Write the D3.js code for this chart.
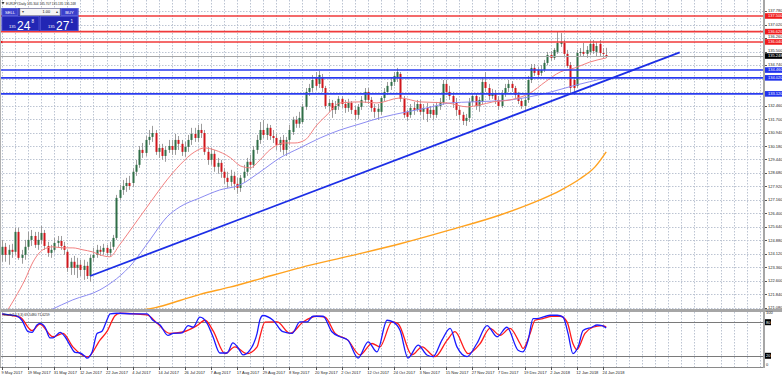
<!DOCTYPE html>
<html>
<head>
<meta charset="utf-8">
<script src="https://cdn.jsdelivr.net/npm/d3@7"></script>
<style>
  body { margin: 0; background: #fff; }
  svg { display: block; font-family: "Liberation Sans", Arial, sans-serif; }
</style>
</head>
<body>
<div id="chart"></div>
<script>
// ---- data ----
const chartTitle = 'EURJPY,Daily  135.304 135.707 135.135 135.248';
const stochTitle = 'Stoch(14,3,3) 69.5480 71.6259';

// date labels sit on every 8th daily bar, starting at bar 0 (9 May 2017)
const dateLabels = ['9 May 2017', '19 May 2017', '31 May 2017', '12 Jun 2017', '22 Jun 2017', '4 Jul 2017',
  '14 Jul 2017', '26 Jul 2017', '7 Aug 2017', '17 Aug 2017', '29 Aug 2017', '8 Sep 2017', '20 Sep 2017',
  '2 Oct 2017', '12 Oct 2017', '24 Oct 2017', '3 Nov 2017', '15 Nov 2017', '27 Nov 2017', '7 Dec 2017',
  '19 Dec 2017', '2 Jan 2018', '12 Jan 2018', '24 Jan 2018'];

const priceTicks = ['121.080', '121.840', '122.600', '123.360', '124.120', '124.880', '125.640', '126.400',
  '127.160', '127.920', '128.680', '129.440', '130.180', '130.940', '131.700', '132.460', '133.220',
  '133.980', '134.740', '135.500', '136.260', '137.020', '137.780'];

const opens = [124.07,124.52,124.07,124.35,124.24,125.36,123.90,124.07,124.52,124.91,125.13,124.63,124.91,125.30,124.57,124.18,124.35,124.74,124.85,124.57,
  124.24,123.34,123.68,123.34,123.51,123.22,123.45,122.88,123.90,124.07,124.35,124.24,124.46,124.18,124.52,125.02,127.27,127.72,127.94,128.11,
  128.11,128.74,129.13,129.97,129.80,130.53,130.70,130.92,129.86,130.08,129.63,129.97,130.19,129.97,130.53,130.31,129.86,130.14,130.53,130.87,
  130.64,131.09,130.92,129.86,129.41,129.75,129.02,129.24,128.74,128.40,128.17,128.51,128.06,127.83,128.40,128.74,129.30,129.13,129.97,130.53,
  131.09,130.81,131.21,130.75,130.64,130.25,130.53,129.97,130.53,130.98,131.66,131.44,131.54,132.39,133.23,133.45,134.02,133.68,134.07,133.45,
  132.44,132.61,132.22,132.44,132.84,132.55,132.33,132.61,132.22,131.94,132.39,132.78,133.23,132.78,132.33,132.11,132.11,132.89,133.23,133.57,
  133.79,134.02,134.24,132.84,132.11,131.94,132.33,132.22,132.55,132.11,132.33,131.99,132.22,131.94,132.44,132.61,133.68,133.23,133.00,132.61,
  132.22,131.94,131.60,131.77,132.67,133.00,132.44,132.67,133.79,133.45,133.00,133.12,132.78,132.44,133.12,133.45,133.68,133.45,133.06,132.72,
  132.44,132.78,133.90,134.58,134.46,134.30,134.46,134.86,135.31,135.14,135.48,135.93,135.98,135.37,134.74,133.90,133.57,135.42,135.48,135.37,
  135.48,135.93,135.48,135.93,135.42,135.304];
const highs = [124.91,124.74,124.63,124.69,125.59,125.59,124.35,124.91,125.36,125.47,125.36,125.36,125.70,125.47,124.80,124.63,125.02,125.13,125.13,124.80,
  124.35,123.90,124.01,123.90,123.79,123.79,123.68,124.07,124.46,124.63,124.57,124.69,124.63,124.80,125.19,127.44,128.00,128.28,128.40,128.51,
  128.96,129.41,130.19,130.36,130.75,131.09,131.32,131.09,130.31,130.31,130.19,130.53,130.53,130.87,130.75,130.53,130.42,130.81,131.21,131.21,
  131.37,131.44,131.09,130.14,130.08,129.97,129.52,129.41,128.96,128.74,128.85,128.74,128.40,128.56,129.13,129.52,129.69,130.19,130.81,131.54,
  131.66,131.44,131.37,131.09,130.87,130.70,130.81,130.70,131.37,131.83,131.88,132.11,132.55,133.45,133.68,134.18,134.35,134.41,134.24,133.57,
  132.84,132.78,132.72,133.00,133.00,132.78,132.84,132.72,132.44,132.55,133.00,133.45,133.45,132.95,132.55,132.55,133.00,133.45,133.79,134.02,
  134.35,134.58,134.35,133.00,132.22,132.55,132.67,132.78,132.78,132.55,132.61,132.44,132.55,132.67,132.89,133.90,133.90,133.57,133.23,132.89,
  132.44,132.11,131.99,132.89,133.17,133.12,132.95,134.02,134.35,133.68,133.40,133.34,133.00,133.34,133.68,133.90,133.84,133.57,133.23,132.89,
  133.00,134.13,134.80,134.80,134.63,134.74,135.03,135.48,135.53,135.70,136.60,136.54,136.15,135.59,134.91,134.07,135.59,135.70,135.98,135.81,
  136.15,136.15,136.04,136.15,135.70,135.707];
const lows = [123.68,123.68,123.51,123.90,124.07,123.79,123.57,123.79,124.35,124.57,124.46,124.35,124.69,124.35,123.96,123.90,124.24,124.46,124.35,124.07,
  123.11,122.94,122.94,122.77,122.88,122.66,122.71,122.55,123.68,123.90,124.01,124.07,124.01,124.01,124.35,124.91,127.16,127.44,127.61,127.72,
  127.89,128.51,128.96,129.52,129.63,130.25,130.42,129.69,129.52,129.41,129.30,129.80,129.69,129.69,129.97,129.63,129.58,129.86,130.25,130.42,
  130.42,130.64,129.69,129.13,129.13,128.74,128.63,128.40,128.06,127.83,127.94,127.72,127.50,127.61,128.17,128.51,128.85,128.96,129.75,130.31,
  130.64,130.53,130.53,130.36,129.97,129.86,129.69,129.63,130.25,130.81,131.21,131.21,131.44,132.22,133.00,133.23,133.34,133.45,133.23,132.28,
  132.11,131.77,131.99,132.22,132.33,132.05,132.11,131.99,131.66,131.71,132.22,132.61,132.55,132.11,131.77,131.66,131.94,132.72,133.06,133.34,
  133.57,133.79,132.67,131.77,131.60,131.77,131.94,132.11,131.94,131.66,131.54,131.77,131.66,131.77,132.22,132.50,133.06,132.78,132.33,131.88,
  131.66,131.37,131.32,131.54,132.44,132.22,132.11,132.55,133.23,132.78,132.84,132.55,132.22,132.33,132.95,133.23,133.23,132.89,132.55,132.28,
  132.22,132.61,133.73,134.13,134.02,134.13,134.35,134.74,134.97,135.03,135.37,135.76,135.19,134.58,133.12,133.06,133.45,135.19,135.19,135.14,
  135.31,135.37,135.25,135.25,135.14,135.135];
const closes = [124.52,124.07,124.35,124.24,125.36,123.90,124.07,124.52,124.91,125.13,124.63,124.91,125.30,124.57,124.18,124.35,124.74,124.85,124.57,124.35,
  123.34,123.68,123.34,123.51,123.22,123.45,122.88,123.90,124.07,124.35,124.24,124.46,124.18,124.40,125.02,127.27,127.72,127.94,128.11,127.94,
  128.74,129.13,129.97,129.80,130.53,130.70,130.92,129.86,130.08,129.63,129.97,130.19,129.97,130.53,130.31,129.86,130.14,130.53,130.87,130.64,
  131.09,130.92,129.86,129.41,129.75,129.02,129.24,128.74,128.40,128.17,128.51,128.06,127.83,128.40,128.74,129.30,129.13,129.97,130.53,131.09,
  130.81,131.21,130.75,130.64,130.25,130.53,129.97,130.53,131.09,131.66,131.44,131.77,132.39,133.23,133.45,133.90,133.57,134.18,133.45,132.44,
  132.61,132.22,132.44,132.84,132.55,132.33,132.61,132.22,131.94,132.39,132.78,133.23,132.78,132.33,132.11,132.28,132.89,133.23,133.57,133.79,
  134.13,134.35,132.84,131.94,131.83,132.33,132.22,132.55,132.11,132.33,131.99,132.22,131.94,132.44,132.67,133.68,133.23,133.00,132.61,132.22,
  131.94,131.60,131.77,132.67,133.00,132.44,132.78,133.79,133.45,133.00,133.12,132.78,132.44,133.12,133.45,133.68,133.45,133.06,132.72,132.44,
  132.78,133.90,134.58,134.30,134.18,134.46,134.86,135.31,135.14,135.59,135.98,136.04,135.37,134.69,133.45,133.45,135.42,135.48,135.37,135.59,
  135.93,135.53,135.81,135.42,135.37,135.248];

// moving averages, read at points along each line (bar index, price)
const maFastBars = [1.8,4,7,9.5,12.5,15.6,18.7,21.7,24.8,27.6,30,33,36,40,45.3,50.5,54.5,59,62,65,70,73,76,79,82,
  86.6,89.7,92.8,96.4,99.5,103.5,109.6,114.8,121.9,128,136.3,142.4,146.4,150.3,155.5,161.7,166.3,170.9,175.4,180,185];
const maFastVals = [120.98,121.65,122.66,123.67,124.35,124.52,124.46,124.46,124.35,124.24,124.07,123.96,124.63,125.64,126.99,
  128.28,129.13,129.86,130.08,129.97,129.52,129.07,128.96,129.41,129.97,130.36,130.36,130.53,131.37,131.94,132.61,132.67,132.61,
  132.89,132.67,132.61,132.39,132.50,132.67,132.78,133.17,133.79,134.35,134.58,134.91,135.14];
const maMidBars = [14.7,21.7,30,40.1,45.3,50.5,54.5,60.6,66.7,72.9,79,85.1,91.2,97.4,103.5,109.6,115.7,124,130.1,137.2,144.2,155.5,166.9,174.8,185];
const maMidVals = [120.95,121.54,122.10,123.62,124.91,126.20,126.77,127.27,127.72,128.00,128.73,129.52,130.08,130.64,131.09,131.43,
  131.77,132.11,132.33,132.61,132.67,132.78,133.17,133.57,134.02];
const maSlowBars = [40,47,54.5,60.6,69.8,79,91.2,106.6,121.9,137.2,152.5,164.7,171,177,181.5,185];
const maSlowVals = [120.90,121.10,121.50,121.85,122.25,122.72,123.34,124.01,124.69,125.47,126.31,127.16,127.70,128.35,129.00,129.86];

// drawn objects
const resistLevels = [137.50, 136.62, 136.04];
const supportLevels = [134.46, 134.02, 133.12];
const bidPrice = 135.248;
const trendBars = [27, 207.5];
const trendPrices = [122.88, 135.45];

// stochastic %K (blue) and %D (red)
const stochKBars = [0,2.4,4.6,6.1,8.0,9.2,10.7,11.6,13.2,14.7,15.6,17.8,19.3,20.8,22.4,23.9,25.4,26,27.6,29.1,30.6,32.1,33.1,35.2,40.1,
  44.4,46.2,48.4,50.8,52.4,55.1,57,58.5,60.6,62.8,64.6,66.7,68.9,70.7,72.3,73.8,75.9,78.1,79,79.9,83,86,88.8,91.2,93.4,95.2,98.3,101,
  103.5,105.9,109,112.1,114.8,117.9,119.7,121.9,124.3,127.4,130.1,132,134.7,137.2,139.3,142.4,145.4,148.5,151.6,154.6,158,159.5,161.1,
  162.6,163.8,167.8,170,171.8,173.3,174.8,176.4,177.9,180.6,182.2,183.7,185];
const stochK = [95,93,91,83.5,63,62,75,78,71,52,52,62,54,39,26,25,19,16,27,60,64,83.5,95,96,95,95,83.5,75,56.5,60,61,74,71,89,78,54,25,25,
  43,34,21.5,30,60,85,92,83.5,63,60,80.5,80.5,90.6,90.6,63,54,48,16,45,27,83.5,80.5,65,16,39,21.5,18.5,48,69,36,18.5,42,74,54,71,30,27,48,
  86.5,86.5,92.4,92.4,89,60,24,36,65,71,75,74,69.55];
const stochDBars = [0,5.5,9.2,11.6,15.6,18.7,21.7,26.3,30,32.1,34.6,36.1,44.4,47.5,51.4,55.4,59.7,62.2,64.6,68.3,71.3,75,78.1,79,80.5,
  84.2,88.2,92.2,96.4,98.9,102,105.9,109.6,113.3,115.7,119.4,121.3,125.5,128.6,132.6,136.3,138.7,142.7,146.4,149.4,152.5,155.5,158.6,
  159.5,161.7,163.2,165.6,168.4,170.9,173,174.8,176,178.5,180.9,183.7,185];
const stochD = [94,89,65,76.5,54,60,36,18,48,63,91.5,96,93,78,60,62.5,74,83.5,65,24,36,24,36,55,80,80.5,60,80.5,90.6,89,60,48,21.5,42,36,
  80.5,77,21.5,36,18.5,48,63,24,42,69,56.5,69,42,33,60,83.5,86.5,90.6,90.6,80.5,42,31,60,71,74,71.63];
const stochLevels = [80, 20];

// ---- layout ----
const W = 782, H = 377;
const plotR = 763;
const main = { top: 0, bottom: 309 };
const sub = { top: 312, bottom: 367 };

const x = d3.scaleLinear().domain([0, 233]).range([2, plotR]);
const y = d3.scaleLinear().domain([121.08, 137.78]).range([308, 11]);
const ys = d3.scaleLinear().domain([0, 100]).range([367, 311]);

const svg = d3.select('#chart').append('svg')
  .attr('width', W).attr('height', H);

const defs = svg.append('defs');
defs.append('clipPath').attr('id', 'clipMain')
  .append('rect').attr('x', 0).attr('y', main.top).attr('width', plotR).attr('height', main.bottom - main.top);
defs.append('clipPath').attr('id', 'clipSub')
  .append('rect').attr('x', 0).attr('y', sub.top).attr('width', plotR).attr('height', sub.bottom - sub.top);

svg.append('rect').attr('width', W).attr('height', H).attr('fill', '#fff');

const gridColor = '#bcc4d2';
const gMain = svg.append('g').attr('clip-path', 'url(#clipMain)');
const gSub = svg.append('g').attr('clip-path', 'url(#clipSub)');

// vertical grid, every 4 bars
const gridBars = d3.range(0, 233, 4);
[gMain, gSub].forEach(function(g, k) {
  const top = k === 0 ? main.top : sub.top;
  const bottom = k === 0 ? main.bottom : sub.bottom;
  g.selectAll('line.vgrid').data(gridBars).enter().append('line')
    .attr('class', 'vgrid')
    .attr('x1', d => Math.round(x(d)) + 0.5).attr('x2', d => Math.round(x(d)) + 0.5)
    .attr('y1', top).attr('y2', bottom)
    .attr('stroke', gridColor).attr('stroke-width', 1).attr('stroke-dasharray', '1.5,1.5');
});

// horizontal grid at price ticks
gMain.selectAll('line.hgrid').data(priceTicks).enter().append('line')
  .attr('x1', 0).attr('x2', plotR)
  .attr('y1', d => Math.round(y(+d)) + 0.5).attr('y2', d => Math.round(y(+d)) + 0.5)
  .attr('stroke', gridColor).attr('stroke-width', 1).attr('stroke-dasharray', '1.5,1.5');

// candles
const bars = d3.range(opens.length).map(i => ({ i: i, o: opens[i], h: highs[i], l: lows[i], c: closes[i] }));
const candle = gMain.append('g').selectAll('g').data(bars).enter().append('g');
candle.append('line')
  .attr('x1', d => Math.round(x(d.i)) + 0.5).attr('x2', d => Math.round(x(d.i)) + 0.5)
  .attr('y1', d => y(d.h)).attr('y2', d => y(d.l))
  .attr('stroke', '#9c9c9c').attr('stroke-width', 1);
candle.append('rect')
  .attr('x', d => Math.round(x(d.i)) - 0.5)
  .attr('y', d => y(Math.max(d.o, d.c)))
  .attr('width', 2)
  .attr('height', d => Math.max(1, Math.abs(y(d.o) - y(d.c))))
  .attr('fill', d => d.c >= d.o ? '#2f6e47' : '#d0161c');

// moving averages
const lineFor = ysc => d3.line().x(d => x(d[0])).y(d => ysc(d[1])).curve(d3.curveMonotoneX);
const zip = (a, b) => a.map((v, k) => [v, b[k]]);
gMain.append('path').datum(zip(maSlowBars, maSlowVals)).attr('d', lineFor(y))
  .attr('fill', 'none').attr('stroke', '#ffa21f').attr('stroke-width', 1.4);
gMain.append('path').datum(zip(maMidBars, maMidVals)).attr('d', lineFor(y))
  .attr('fill', 'none').attr('stroke', '#8c8cf2').attr('stroke-width', 1);
gMain.append('path').datum(zip(maFastBars, maFastVals)).attr('d', lineFor(y))
  .attr('fill', 'none').attr('stroke', '#f28080').attr('stroke-width', 1);

// bid line
gMain.append('line').attr('x1', 0).attr('x2', plotR)
  .attr('y1', Math.round(y(bidPrice)) + 0.5).attr('y2', Math.round(y(bidPrice)) + 0.5)
  .attr('stroke', '#a8a8a8').attr('stroke-width', 1);

// horizontal levels
gMain.selectAll('line.res').data(resistLevels).enter().append('line')
  .attr('x1', 0).attr('x2', plotR).attr('y1', d => y(d)).attr('y2', d => y(d))
  .attr('stroke', '#f03a3a').attr('stroke-width', 1.6);
gMain.selectAll('line.sup').data(supportLevels).enter().append('line')
  .attr('x1', 0).attr('x2', plotR).attr('y1', d => y(d)).attr('y2', d => y(d))
  .attr('stroke', '#2a3cf0').attr('stroke-width', 1.6);
// small marker on the left end of the lowest resistance line
gMain.append('path')
  .attr('d', 'M0,' + (y(resistLevels[2]) - 2) + ' L3,' + y(resistLevels[2]) + ' L0,' + (y(resistLevels[2]) + 2) + ' Z')
  .attr('fill', '#e01010');

// trendline
gMain.append('line')
  .attr('x1', x(trendBars[0])).attr('y1', y(trendPrices[0]))
  .attr('x2', x(trendBars[1])).attr('y2', y(trendPrices[1]))
  .attr('stroke', '#1c2ee6').attr('stroke-width', 1.8);

// stochastic
gSub.selectAll('line.lvl').data(stochLevels).enter().append('line')
  .attr('x1', 0).attr('x2', plotR).attr('y1', d => Math.round(ys(d)) + 0.5).attr('y2', d => Math.round(ys(d)) + 0.5)
  .attr('stroke', '#7a7a7a').attr('stroke-width', 1);
gSub.append('path').datum(zip(stochDBars, stochD)).attr('d', lineFor(ys))
  .attr('fill', 'none').attr('stroke', '#ff1a1a').attr('stroke-width', 1.3);
gSub.append('path').datum(zip(stochKBars, stochK)).attr('d', lineFor(ys))
  .attr('fill', 'none').attr('stroke', '#1a1aff').attr('stroke-width', 1.3);

// panel frames
svg.append('rect').attr('x', 0).attr('y', main.bottom).attr('width', W).attr('height', sub.top - main.bottom).attr('fill', '#a6a6a6');
svg.append('line').attr('x1', 0).attr('x2', plotR + 1).attr('y1', sub.bottom + 0.5).attr('y2', sub.bottom + 0.5)
  .attr('stroke', '#8a8a8a');
svg.append('rect').attr('x', plotR).attr('y', 0).attr('width', 2).attr('height', sub.bottom + 1).attr('fill', '#a6a6a6');
svg.append('line').attr('x1', 0.5).attr('x2', 0.5).attr('y1', 0).attr('y2', sub.bottom).attr('stroke', '#b0b0b0');

// price axis; a tag drawn on a level covers the tick label under it
const axisX = plotR + 3;
const tagLevels = resistLevels.concat(supportLevels, [bidPrice]).map(v => y(v));
const tickLabels = priceTicks.map(function(t) {
  const ty = y(+t);
  const near = tagLevels.reduce((m, ly) => Math.abs(ly - ty) < Math.abs(m - ty) ? ly : m, -999);
  const dist = ty - near;
  if (Math.abs(dist) < 2.5) return null;           // hidden under the tag
  let shown = ty;
  if (Math.abs(dist) < 5) shown = near + Math.sign(dist) * 5;
  return { t: t, ty: ty, shown: shown };
}).filter(d => d);
const priceAxis = svg.append('g');
priceAxis.selectAll('line').data(priceTicks).enter().append('line')
  .attr('x1', plotR + 2).attr('x2', plotR + 4)
  .attr('y1', d => Math.round(y(+d)) + 0.5).attr('y2', d => Math.round(y(+d)) + 0.5)
  .attr('stroke', '#555');
priceAxis.selectAll('text').data(tickLabels).enter().append('text')
  .attr('x', axisX + 2).attr('y', d => d.shown + 1.4)
  .attr('font-size', 4).attr('fill', '#222').text(d => d.t);

function levelTag(value, color, label) {
  svg.append('rect').attr('x', plotR + 2).attr('y', y(value) - 2.8).attr('width', W - plotR - 2).attr('height', 5.6)
    .attr('fill', color);
  svg.append('text').attr('x', axisX + 2).attr('y', y(value) + 1.4)
    .attr('font-size', 4).attr('fill', '#fff').text(label);
}
resistLevels.forEach(v => levelTag(v, '#f01c1c', v.toFixed(3)));
supportLevels.forEach(v => levelTag(v, '#2233ee', v.toFixed(3)));
levelTag(bidPrice, '#000', bidPrice.toFixed(3));

// stochastic axis
[[100, null], [80, '#000'], [20, '#000'], [0, null]].forEach(function(d) {
  if (d[1]) {
    svg.append('rect').attr('x', plotR + 2).attr('y', ys(d[0]) - 3).attr('width', 6).attr('height', 6).attr('fill', d[1]);
  }
  svg.append('text').attr('x', axisX).attr('y', ys(d[0]) + (d[0] === 100 ? 3.2 : d[0] === 0 ? -0.6 : 1.4))
    .attr('font-size', 4).attr('fill', d[1] ? '#fff' : '#222').text(d[0]);
});

// date axis
const dateAxis = svg.append('g');
dateLabels.forEach(function(lbl, k) {
  const xi = x(k * 8);
  dateAxis.append('line').attr('x1', Math.round(xi) + 0.5).attr('x2', Math.round(xi) + 0.5)
    .attr('y1', sub.bottom).attr('y2', sub.bottom + 3).attr('stroke', '#555');
  dateAxis.append('text').attr('x', xi - 0.5).attr('y', 373.5)
    .attr('font-size', 4).attr('fill', '#222').text(lbl);
});

// indicator title
svg.append('text').attr('x', 3).attr('y', 315.5).attr('font-size', 3.4).attr('fill', '#222').text(stochTitle);

// chart title
svg.append('path').attr('d', 'M1.5,2 L4.5,2 L3,4.5 Z').attr('fill', '#333');
svg.append('text').attr('x', 6).attr('y', 5).attr('font-size', 3.2).attr('fill', '#222').text(chartTitle);

// one-click trading panel
const panel = svg.append('g');
panel.append('rect').attr('x', 1.5).attr('y', 8).attr('width', 77).attr('height', 23).attr('fill', '#2a2cae');
panel.append('rect').attr('x', 2).attr('y', 8.5).attr('width', 16).attr('height', 7).attr('fill', '#3b40cc').attr('stroke', '#7478e6').attr('stroke-width', 0.6);
panel.append('rect').attr('x', 61).attr('y', 8.5).attr('width', 17).attr('height', 7).attr('fill', '#3b40cc').attr('stroke', '#7478e6').attr('stroke-width', 0.6);
panel.append('rect').attr('x', 20).attr('y', 8.5).attr('width', 40).attr('height', 7).attr('fill', '#f4f4f4').attr('stroke', '#9a9a9a').attr('stroke-width', 0.6);
panel.append('text').attr('x', 10).attr('y', 13.6).attr('text-anchor', 'middle').attr('font-size', 4.2).attr('fill', '#fff').text('SELL');
panel.append('text').attr('x', 69.5).attr('y', 13.6).attr('text-anchor', 'middle').attr('font-size', 4.2).attr('fill', '#fff').text('BUY');
panel.append('text').attr('x', 23).attr('y', 13.4).attr('text-anchor', 'middle').attr('font-size', 3.6).attr('fill', '#444').text('▾');
panel.append('text').attr('x', 57).attr('y', 13.4).attr('text-anchor', 'middle').attr('font-size', 3.6).attr('fill', '#444').text('▴');
panel.append('text').attr('x', 50).attr('y', 13.4).attr('text-anchor', 'end').attr('font-size', 3.8).attr('fill', '#111').text('1.00');
panel.append('rect').attr('x', 2).attr('y', 16.5).attr('width', 37).attr('height', 14).attr('fill', '#2226b4').attr('stroke', '#5a5ee0').attr('stroke-width', 0.6);
panel.append('rect').attr('x', 40.5).attr('y', 16.5).attr('width', 37.5).attr('height', 14).attr('fill', '#2226b4').attr('stroke', '#5a5ee0').attr('stroke-width', 0.6);
[[9, '24', '8'], [48, '27', '1']].forEach(function(p) {
  panel.append('text').attr('x', p[0]).attr('y', 28).attr('font-size', 4).attr('fill', '#fff').text('135');
  panel.append('text').attr('x', p[0] + 8).attr('y', 29.5).attr('font-size', 12).attr('fill', '#fff').text(p[1]);
  panel.append('text').attr('x', p[0] + 22.5).attr('y', 22.5).attr('font-size', 4.5).attr('fill', '#fff').text(p[2]);
});
</script>
</body>
</html>
